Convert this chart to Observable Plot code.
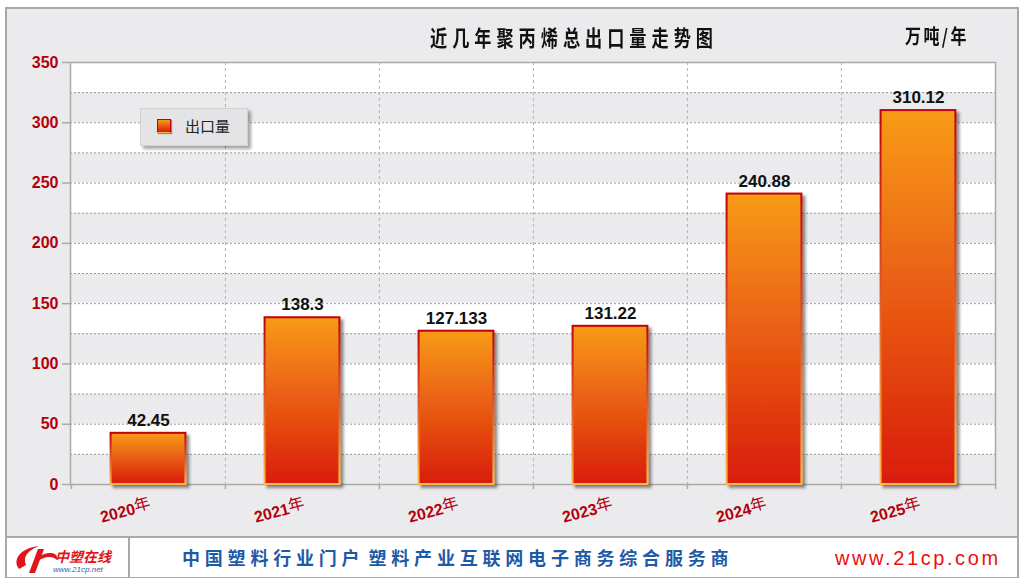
<!DOCTYPE html>
<html><head><meta charset="utf-8">
<script src="https://cdn.jsdelivr.net/npm/d3@7"></script>
<script src="https://cdn.jsdelivr.net/npm/@observablehq/plot@0.6"></script>
<style>
body{margin:0;width:1024px;height:586px;position:relative;background:#fff;overflow:hidden;font-family:"Liberation Sans",Arial,sans-serif}
#frame{position:absolute;left:5px;top:7px;width:1010px;height:567px;border:2px solid #a9a9a9;background:#ebebed}
#chart{position:absolute;left:0;top:0}
.cjk{font-family:"Noto Sans CJK SC","Noto Sans",sans-serif}
#title{position:absolute;left:430px;top:24px;font-size:22px;line-height:24px;letter-spacing:6.4px;font-weight:bold;color:#111;transform:scaleX(0.78);transform-origin:left center;white-space:nowrap}
#unit{position:absolute;left:905px;top:25px;font-size:20px;line-height:22px;letter-spacing:3px;font-weight:bold;color:#111;transform:scaleX(0.8);transform-origin:left center;white-space:nowrap}
#legend{position:absolute;left:140px;top:108px;width:106px;height:36px;background:#e4e4e6;border:1px solid #d2d2d2;box-shadow:3px 3px 3px rgba(0,0,0,0.35)}
#legend .sw{position:absolute;left:16px;top:10px;width:12px;height:12px;border:1px solid #c4000c;border-bottom-color:#fbb848;background:linear-gradient(#f89b14,#d91c10);box-shadow:1px 1px 1px rgba(0,0,0,0.4)}
#legend .lt{position:absolute;left:44px;top:7px;font-size:15px;line-height:20px;color:#222}
#footer{position:absolute;left:7px;top:536px;width:1010px;height:39px;border-top:2px solid #a9a9a9;background:#fff}
#logo{position:absolute;left:0;top:0;width:121px;height:39px;border-right:2px solid #a9a9a9}
#slogan{position:absolute;left:175px;top:8px;font-size:18px;line-height:22px;letter-spacing:4.8px;font-weight:bold;color:#1d5aa6;white-space:nowrap}
#site{position:absolute;left:828px;top:8px;font-size:20px;line-height:24px;letter-spacing:2.6px;color:#e8100f;white-space:nowrap;font-family:"Liberation Sans",Arial,sans-serif}
</style>
</head><body>
<div id="frame"></div>
<div id="chart"></div>
<div id="title" class="cjk">近几年聚丙烯总出口量走势图</div>
<div id="unit" class="cjk">万吨/年</div>
<div id="legend"><div class="sw"></div><div class="lt cjk">出口量</div></div>
<div id="footer">
  <div id="logo">
    <svg width="121" height="39" viewBox="0 0 121 39">
      <path d="M12 31 C 5 22, 13 10, 32 8 C 22 12, 15 18, 19 27 Z" fill="#e0141a"/>
      <path d="M22 35 L 31 11 L 37 11 L 28 35 Z" fill="#e0141a"/>
      <path d="M30 20 C 40 12, 52 14, 50 22 C 46 18, 38 18, 31 23 Z" fill="#e0141a"/>
      <text x="48" y="24" font-family="Noto Sans CJK SC" font-size="14" font-weight="bold" font-style="italic" fill="#e0141a">中塑在线</text>
      <text x="46" y="34" font-family="Liberation Sans" font-size="8" font-style="italic" fill="#3a5fa8">www.21cp.net</text>
    </svg>
  </div>
  <div id="slogan" class="cjk">中国塑料行业门户<span style="letter-spacing:0">&nbsp;</span>塑料产业互联网电子商务综合服务商</div>
  <div id="site">www.21cp.com</div>
</div>
<script>
const years = ["2020年","2021年","2022年","2023年","2024年","2025年"];
const exports = [42.45, 138.3, 127.133, 131.22, 240.88, 310.12];
const yTicks = [0, 50, 100, 150, 200, 250, 300, 350];
const gridTicks = d3.range(25, 350, 25);
const whiteBands = d3.range(25, 350, 50);

const data = years.map((year, i) => ({year, value: exports[i]}));

const W = 1024, H = 537, mL = 70, mR = 29, mT = 62, mB = 53;
const step = (W - mL - mR) / years.length;
const barW = 75;
const inset = (step - barW) / 2;
const red = "#b3000c";

const svg = Plot.plot({
  width: W, height: H,
  marginLeft: mL, marginRight: mR, marginTop: mT, marginBottom: mB,
  style: {background: "transparent", fontFamily: "'Liberation Sans', Arial, sans-serif"},
  x: {domain: years, padding: 0, axis: null},
  y: {domain: [0, 350], axis: null},
  marks: [
    Plot.rect(whiteBands, {y1: d => d, y2: d => d + 25, fill: "#ffffff"}),
    Plot.ruleY(gridTicks, {stroke: "#9c9c9c", strokeDasharray: "2,2", strokeWidth: 1}),
    Plot.ruleX(years.slice(1), {dx: -step / 2, stroke: "#b4b4b4", strokeDasharray: "3,3"}),
    Plot.frame({stroke: "#a9a9a9", strokeWidth: 1.5}),
    Plot.ruleX(years, {y1: 0, y2: 0, dx: -step / 2, insetBottom: -5, stroke: "#a9a9a9", strokeWidth: 1.5}),
    Plot.ruleX(years.slice(-1), {y1: 0, y2: 0, dx: step / 2, insetBottom: -5, stroke: "#a9a9a9", strokeWidth: 1.5}),
    Plot.axisY(yTicks, {tickSize: 8, tickPadding: 4, stroke: "#a9a9a9", strokeWidth: 1.5, fill: red, fontSize: 16, fontWeight: "bold", label: null}),
    Plot.barY(data, {x: "year", y: "value", insetLeft: inset, insetRight: inset, fill: "url(#barFill)", stroke: "url(#barStroke)", strokeWidth: 2}),
    Plot.text(data, {x: "year", y: "value", text: d => String(d.value), dy: -13, fontSize: 17, fontWeight: "bold", fill: "#111"}),
    Plot.text(years, {x: d => d, frameAnchor: "bottom", textAnchor: "end", lineAnchor: "middle", rotate: -15, dx: 2, dy: 20, fill: red, fontSize: 16, fontWeight: "bold"})
  ]
});

const s = d3.select(svg);
const defs = s.insert("defs", ":first-child");
const gf = defs.append("linearGradient").attr("id", "barFill").attr("x1", 0).attr("y1", 0).attr("x2", 0).attr("y2", 1);
gf.append("stop").attr("offset", "0%").attr("stop-color", "#f89b14");
gf.append("stop").attr("offset", "100%").attr("stop-color", "#d91c10");
const gs = defs.append("linearGradient").attr("id", "barStroke").attr("x1", 0).attr("y1", 0).attr("x2", 0).attr("y2", 1);
gs.append("stop").attr("offset", "0%").attr("stop-color", "#c2000c");
gs.append("stop").attr("offset", "100%").attr("stop-color", "#fbb848");
const f = defs.append("filter").attr("id", "shadow").attr("x", "-20%").attr("y", "-20%").attr("width", "150%").attr("height", "150%");
f.append("feDropShadow").attr("dx", 3).attr("dy", 3).attr("stdDeviation", 1.5).attr("flood-color", "#333").attr("flood-opacity", 0.55);
s.selectAll('g[aria-label="bar"]').attr("filter", "url(#shadow)");

// x labels: digits bold, "年" regular and slightly raised
s.selectAll("text").each(function () {
  const t = d3.select(this);
  const str = t.text();
  if (years.includes(str)) {
    t.text(null);
    t.append("tspan").text(str.slice(0, -1));
    t.append("tspan").attr("font-weight", "normal").attr("font-size", 16).attr("dy", -2).attr("font-family", "'Noto Sans CJK SC', sans-serif").text(str.slice(-1));
  }
});

document.getElementById("chart").appendChild(svg);
</script>
</body></html>
